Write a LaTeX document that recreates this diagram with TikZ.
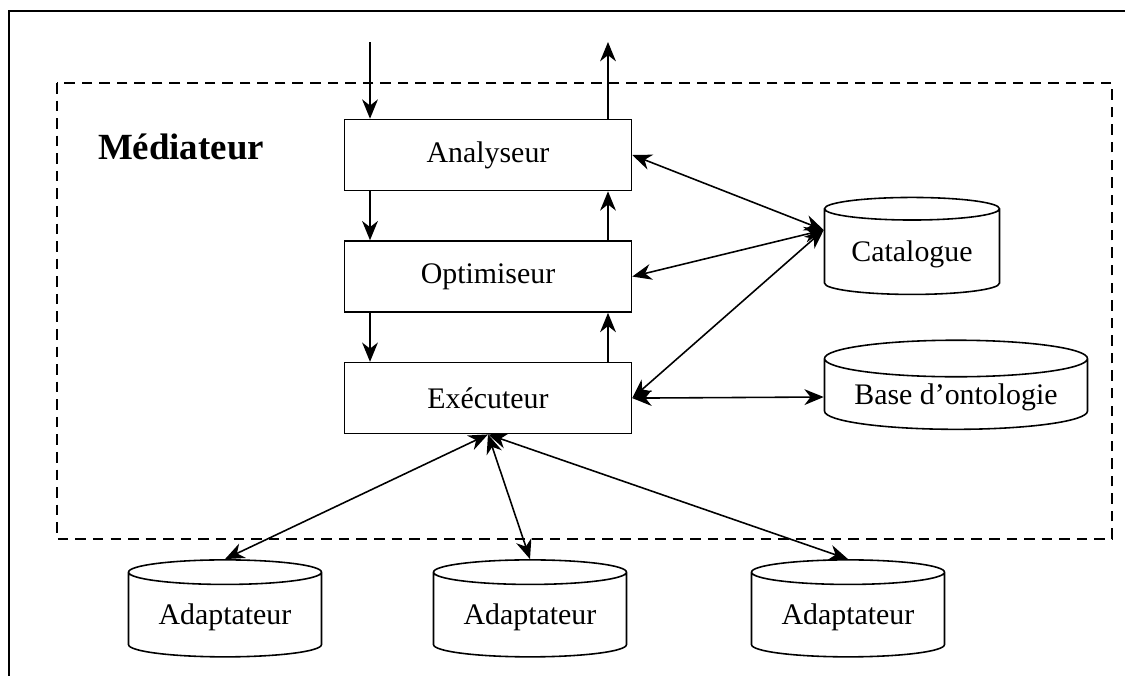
\documentclass[tikz,border=0pt]{standalone}
\usepackage{fontspec}
\setmainfont{Liberation Serif}
\usepackage{tikz}
\usetikzlibrary{positioning, shapes.geometric, calc, arrows.meta}

\begin{document}
\begin{tikzpicture}[x=0.02cm, y=-0.02cm, line width=0.9pt]
		\tikzstyle{module}=[draw=black, minimum height=14.2mm, minimum width=57.4mm, text=black, font=\fontsize{17}{20}\selectfont]
		\tikzstyle{store}=[draw=black, cylinder, shape border rotate=90, aspect=0.17, text=black, font=\fontsize{17}{20}\selectfont]
		\tikzstyle{arw}=[-{Stealth[length=11pt, width=9pt, inset=3.5pt]}]
		\tikzstyle{darw}=[{Stealth[length=11pt, width=9pt, inset=3.5pt]}-{Stealth[length=11pt, width=9pt, inset=3.5pt]}]
		
		\useasboundingbox (0,0) rectangle (1125,676);
		%% cadre
		\draw (1125,11) -- (9,11) -- (9,676);
		\draw [dashed, dash pattern=on 6pt off 4pt] (57,83) rectangle (1112,539);
		\node [font=\fontsize{21}{24}\selectfont\bfseries] (med) at (181,147) {Médiateur};
		
		%% modules du mediateur
		\node [module] (ana) at (488,155) {Analyseur};
		\node [module, below=0.98cm of ana] (opt) {Optimiseur};
		\node [module, below=0.98cm of opt] (exe) {Exécuteur};
		
		%% sources
		\node [store, minimum width=35mm, minimum height=19.4mm] (cat) at (912,254) {Catalogue};
		\node [store, minimum width=52.6mm, minimum height=17mm] (base) at (956,397) {Base d'ontologie};
		\node [store, minimum width=38.6mm, minimum height=19.4mm] (ad1) at (225,617) {Adaptateur};
		\node [store, minimum width=38.6mm, minimum height=19.4mm] (ad2) at (530,617) {Adaptateur};
		\node [store, minimum width=38.6mm, minimum height=19.4mm] (ad3) at (848,617) {Adaptateur};
		
		%% requete / reponse
		\coordinate (qin) at (370,42);
		\coordinate (qout) at (608,42);
		\draw [arw] (qin) -- (qin |- ana.north);
		\draw [arw] (qout |- ana.north) -- (qout);
		\draw [arw] (qin |- ana.south) -- (qin |- opt.north);
		\draw [arw] (qin |- opt.south) -- (qin |- exe.north);
		\draw [arw] (qout |- opt.north) -- (qout |- ana.south);
		\draw [arw] (qout |- exe.north) -- (qout |- opt.south);
		
		%% acces au catalogue
		\coordinate (catin) at ($(cat.west)+(0,-24)$);
		\draw [darw] (ana.east) -- (catin);
		\draw [darw] (opt.east) -- (catin);
		\draw [darw] (exe.east) -- (catin);
		\draw [darw] (exe.east) -- (base.west);
		
		%% adaptateurs
		\foreach \a in {ad1,ad2,ad3}
		\draw [darw] (exe.south) -- (\a.north);
		\end{tikzpicture}
\end{document}
